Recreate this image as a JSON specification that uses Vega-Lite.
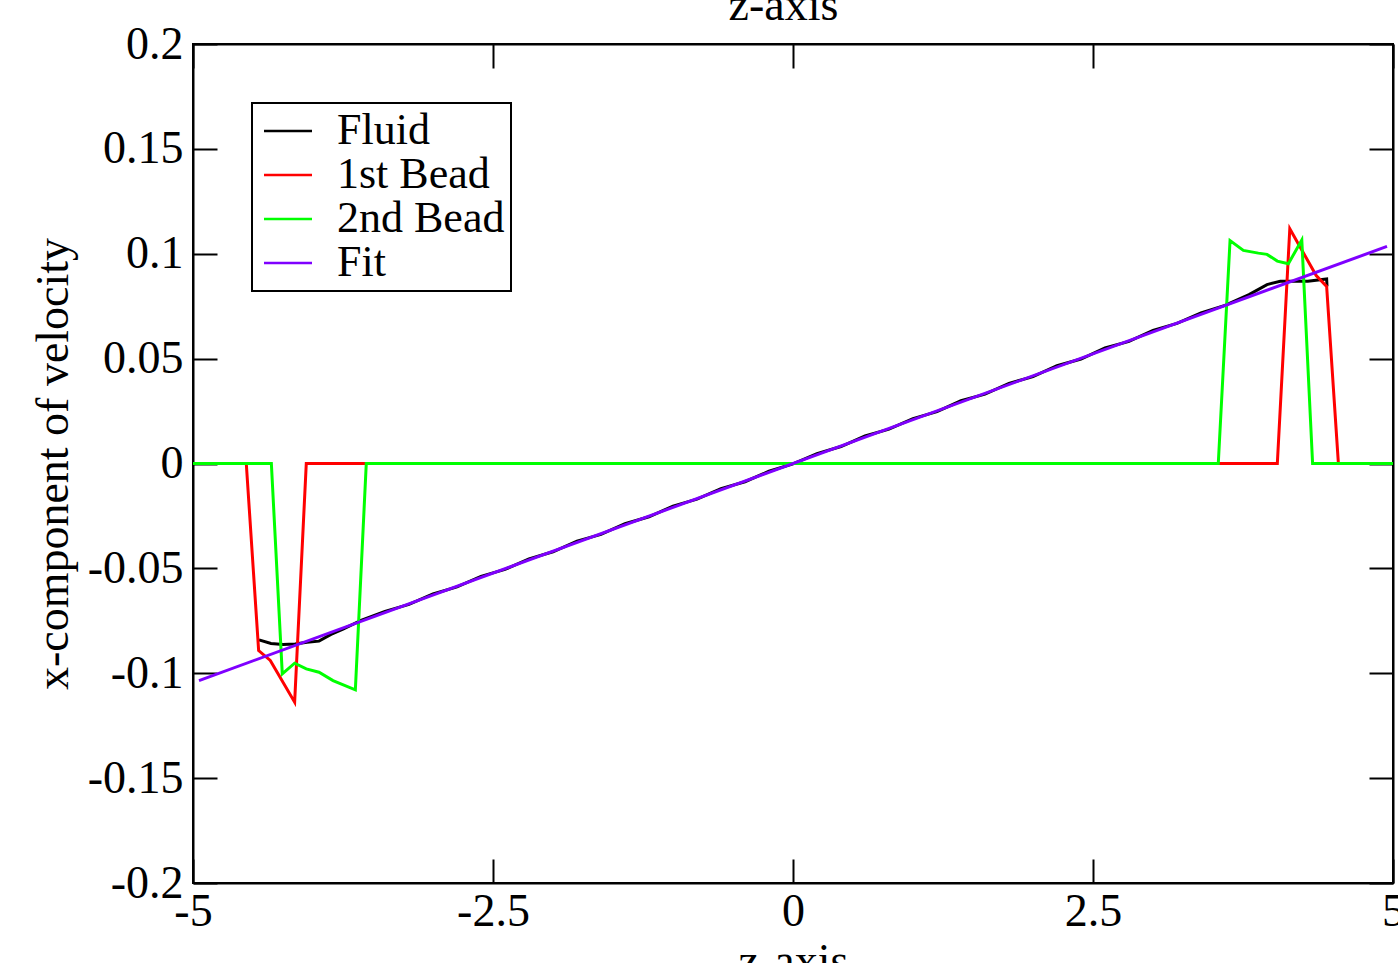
{
  "$schema": "https://vega.github.io/schema/vega-lite/v6.json",
  "width": 1200,
  "height": 839,
  "autosize": {"type": "none"},
  "padding": {"left": 193, "top": 44, "right": 5, "bottom": 80},
  "background": "white",
  "config": {
    "view": {"stroke": "black", "strokeWidth": 2},
    "axis": {
      "labelFont": "Liberation Serif",
      "titleFont": "Liberation Serif",
      "labelFontSize": 46,
      "titleFontSize": 46,
      "titleFontWeight": "normal",
      "labelColor": "black",
      "titleColor": "black",
      "tickColor": "black",
      "domainColor": "black",
      "tickWidth": 2,
      "domainWidth": 2,
      "tickSize": -24,
      "grid": false,
      "labelFlush": false,
      "labelOverlap": false,
      "zindex": 1
    },
    "legend": {
      "labelFont": "Liberation Serif",
      "labelFontSize": 44,
      "labelColor": "black",
      "labelLimit": 0,
      "strokeColor": "black",
      "strokeWidth": 2,
      "fillColor": "white"
    }
  },
  "layer": [
    {
      "data": {
        "values": [
          {"series": "Fluid", "z": -4.45, "v": -0.0841},
          {"series": "Fluid", "z": -4.35, "v": -0.0858},
          {"series": "Fluid", "z": -4.25, "v": -0.0863},
          {"series": "Fluid", "z": -4.15, "v": -0.086},
          {"series": "Fluid", "z": -4.05, "v": -0.0852},
          {"series": "Fluid", "z": -3.95, "v": -0.0847},
          {"series": "Fluid", "z": -3.85, "v": -0.0815},
          {"series": "Fluid", "z": -3.75, "v": -0.079},
          {"series": "Fluid", "z": -3.6, "v": -0.0748},
          {"series": "Fluid", "z": -3.4, "v": -0.0705},
          {"series": "Fluid", "z": -3.2, "v": -0.0672},
          {"series": "Fluid", "z": -3.0, "v": -0.0622},
          {"series": "Fluid", "z": -2.8, "v": -0.0588},
          {"series": "Fluid", "z": -2.6, "v": -0.0538},
          {"series": "Fluid", "z": -2.4, "v": -0.0505},
          {"series": "Fluid", "z": -2.2, "v": -0.0455},
          {"series": "Fluid", "z": -2.0, "v": -0.0421},
          {"series": "Fluid", "z": -1.8, "v": -0.037},
          {"series": "Fluid", "z": -1.6, "v": -0.0338},
          {"series": "Fluid", "z": -1.4, "v": -0.0287},
          {"series": "Fluid", "z": -1.2, "v": -0.0254},
          {"series": "Fluid", "z": -1.0, "v": -0.0203},
          {"series": "Fluid", "z": -0.8, "v": -0.017},
          {"series": "Fluid", "z": -0.6, "v": -0.012},
          {"series": "Fluid", "z": -0.4, "v": -0.0087},
          {"series": "Fluid", "z": -0.2, "v": -0.0037},
          {"series": "Fluid", "z": 0.0, "v": -0.0002},
          {"series": "Fluid", "z": 0.2, "v": 0.0047},
          {"series": "Fluid", "z": 0.4, "v": 0.0081},
          {"series": "Fluid", "z": 0.6, "v": 0.0131},
          {"series": "Fluid", "z": 0.8, "v": 0.0164},
          {"series": "Fluid", "z": 1.0, "v": 0.0214},
          {"series": "Fluid", "z": 1.2, "v": 0.0247},
          {"series": "Fluid", "z": 1.4, "v": 0.0299},
          {"series": "Fluid", "z": 1.6, "v": 0.0331},
          {"series": "Fluid", "z": 1.8, "v": 0.0382},
          {"series": "Fluid", "z": 2.0, "v": 0.0414},
          {"series": "Fluid", "z": 2.2, "v": 0.0466},
          {"series": "Fluid", "z": 2.4, "v": 0.0498},
          {"series": "Fluid", "z": 2.6, "v": 0.0551},
          {"series": "Fluid", "z": 2.8, "v": 0.0582},
          {"series": "Fluid", "z": 3.0, "v": 0.0635},
          {"series": "Fluid", "z": 3.2, "v": 0.0668},
          {"series": "Fluid", "z": 3.4, "v": 0.0718},
          {"series": "Fluid", "z": 3.6, "v": 0.0754},
          {"series": "Fluid", "z": 3.8, "v": 0.0805},
          {"series": "Fluid", "z": 3.95, "v": 0.0853},
          {"series": "Fluid", "z": 4.06, "v": 0.0869},
          {"series": "Fluid", "z": 4.29, "v": 0.0869},
          {"series": "Fluid", "z": 4.447, "v": 0.088},
          {"series": "Fluid", "z": 4.45, "v": 0.0845},
          {"series": "1st Bead", "z": -5.0, "v": 0},
          {"series": "1st Bead", "z": -4.556, "v": 0},
          {"series": "1st Bead", "z": -4.453, "v": -0.0892},
          {"series": "1st Bead", "z": -4.356, "v": -0.0939},
          {"series": "1st Bead", "z": -4.153, "v": -0.1138},
          {"series": "1st Bead", "z": -4.056, "v": 0},
          {"series": "1st Bead", "z": 4.036, "v": 0},
          {"series": "1st Bead", "z": 4.14, "v": 0.1119},
          {"series": "1st Bead", "z": 4.36, "v": 0.0896},
          {"series": "1st Bead", "z": 4.447, "v": 0.0844},
          {"series": "1st Bead", "z": 4.545, "v": 0},
          {"series": "1st Bead", "z": 5.0, "v": 0},
          {"series": "2nd Bead", "z": -5.0, "v": 0},
          {"series": "2nd Bead", "z": -4.347, "v": 0},
          {"series": "2nd Bead", "z": -4.256, "v": -0.1003},
          {"series": "2nd Bead", "z": -4.153, "v": -0.0952},
          {"series": "2nd Bead", "z": -4.056, "v": -0.0979},
          {"series": "2nd Bead", "z": -3.95, "v": -0.0995},
          {"series": "2nd Bead", "z": -3.833, "v": -0.1035},
          {"series": "2nd Bead", "z": -3.647, "v": -0.1079},
          {"series": "2nd Bead", "z": -3.556, "v": 0},
          {"series": "2nd Bead", "z": 3.544, "v": 0},
          {"series": "2nd Bead", "z": 3.642, "v": 0.1063},
          {"series": "2nd Bead", "z": 3.753, "v": 0.1016},
          {"series": "2nd Bead", "z": 3.878, "v": 0.1003},
          {"series": "2nd Bead", "z": 3.95, "v": 0.0997},
          {"series": "2nd Bead", "z": 4.036, "v": 0.0965},
          {"series": "2nd Bead", "z": 4.128, "v": 0.0952},
          {"series": "2nd Bead", "z": 4.24, "v": 0.1066},
          {"series": "2nd Bead", "z": 4.33, "v": 0},
          {"series": "2nd Bead", "z": 5.0, "v": 0},
          {"series": "Fit", "z": -4.95, "v": -0.1035},
          {"series": "Fit", "z": 4.95, "v": 0.1035}
        ]
      },
      "mark": {"type": "line", "strokeWidth": 3, "clip": true},
      "encoding": {
        "x": {
          "field": "z", "type": "quantitative",
          "scale": {"domain": [-5, 5], "nice": false, "zero": false},
          "axis": {
            "orient": "bottom",
            "values": [-5, -2.5, 0, 2.5, 5],
            "labelExpr": "'' + datum.value",
            "labelPadding": 30,
            "title": "z-axis",
            "titleX": 600,
            "titleY": 92,
            "titleBaseline": "alphabetic"
          }
        },
        "y": {
          "field": "v", "type": "quantitative",
          "scale": {"domain": [-0.2, 0.2], "nice": false, "zero": false},
          "axis": {
            "orient": "left",
            "values": [-0.2, -0.15, -0.1, -0.05, 0, 0.05, 0.1, 0.15, 0.2],
            "labelExpr": "'' + datum.value",
            "labelPadding": 34,
            "title": "x-component of velocity",
            "titleAngle": -90,
            "titleX": -126,
            "titleY": 419.5,
            "titleAlign": "center",
            "titleBaseline": "alphabetic"
          }
        },
        "color": {
          "field": "series", "type": "nominal",
          "scale": {
            "domain": ["Fluid", "1st Bead", "2nd Bead", "Fit"],
            "range": ["#000000", "#ff0000", "#00ff00", "#7f00ff"]
          },
          "legend": {
            "title": null,
            "orient": "none",
            "legendX": 59,
            "legendY": 59,
            "symbolType": "M-2,0H2",
            "symbolSize": 576,
            "symbolStrokeWidth": 2.5,
            "labelOffset": 27,
            "labelLimit": 0,
            "padding": 6,
            "symbolOffset": 8,
            "rowPadding": -4
          }
        }
      }
    },
    {
      "data": {"values": [{"z": 0, "v": 0}]},
      "mark": {"type": "point", "opacity": 0},
      "encoding": {
        "x": {
          "field": "z", "type": "quantitative",
          "axis": {
            "orient": "top",
            "values": [-5, -2.5, 0, 2.5, 5],
            "labels": false,
            "title": "z-axis",
            "titleX": 590,
            "titleY": -25,
            "titleBaseline": "alphabetic"
          }
        },
        "y": {
          "field": "v", "type": "quantitative",
          "axis": {
            "orient": "right",
            "values": [-0.2, -0.15, -0.1, -0.05, 0, 0.05, 0.1, 0.15, 0.2],
            "labels": false,
            "title": null
          }
        }
      }
    }
  ],
  "resolve": {"axis": {"x": "independent", "y": "independent"}}
}
